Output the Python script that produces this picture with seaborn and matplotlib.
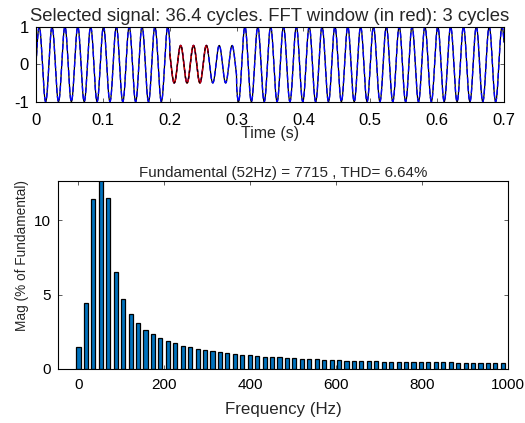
import numpy as np
import pandas as pd
import matplotlib
matplotlib.use("Agg")
import matplotlib.pyplot as plt
import seaborn as sns

# ---------------- data ----------------
# Signal definition (top panel)
signal_freq_hz = 52.0
signal_duration_s = 0.7
sag_start_s = 0.2
sag_end_s = 0.3
normal_amplitude = 1.0
sag_amplitude = 0.5
fft_cycles = 3

# Spectrum (bottom panel): magnitude in % of fundamental per FFT bin
bin_spacing_hz = signal_freq_hz / fft_cycles
magnitudes = [
    1.46, 4.45, 11.41, 100.0, 11.50, 6.54, 4.70, 3.69, 3.06, 2.63,
    2.32, 2.05, 1.87, 1.71, 1.55, 1.44, 1.35, 1.24, 1.19, 1.12,
    1.04, 1.01, 0.94, 0.90, 0.86, 0.81, 0.77, 0.76, 0.72, 0.70,
    0.67, 0.65, 0.63, 0.60, 0.58, 0.57, 0.55, 0.53, 0.52, 0.50,
    0.50, 0.48, 0.47, 0.46, 0.45, 0.45, 0.44, 0.43, 0.43, 0.42,
    0.42, 0.41, 0.41, 0.40, 0.40, 0.40, 0.39, 0.39,
]
frequencies = [round(k * bin_spacing_hz, 3) for k in range(len(magnitudes))]

top_title = "Selected signal: 36.4 cycles. FFT window (in red): 3 cycles"
bottom_title = "Fundamental (52Hz) = 7715 , THD= 6.64%"
top_xticks = [0, 0.1, 0.2, 0.3, 0.4, 0.5, 0.6, 0.7]
top_yticks = [-1, 0, 1]
bottom_xticks = [0, 200, 400, 600, 800, 1000]
bottom_yticks = [0, 5, 10]

# ---------------- build signal ----------------
t = np.linspace(0, signal_duration_s, 4000)
amp = np.where((t >= sag_start_s) & (t < sag_end_s), sag_amplitude, normal_amplitude)
y = amp * np.sin(2 * np.pi * signal_freq_hz * t)
win_end = sag_start_s + fft_cycles / signal_freq_hz
in_win = (t >= sag_start_s) & (t <= win_end)

sig_df = pd.DataFrame({"t": t, "y": y})
win_df = sig_df[in_win]
spec_df = pd.DataFrame({"f": frequencies, "mag": magnitudes})

# ---------------- plot ----------------
sns.set_theme(style="white")
plt.rcParams["font.family"] = ["Liberation Sans", "DejaVu Sans"]
plt.rcParams["axes.unicode_minus"] = False

fig = plt.figure(figsize=(5.25, 4.23), dpi=100)
ax1 = fig.add_axes([0.0686, 0.7596, 0.8914, 0.1773])
ax2 = fig.add_axes([0.111, 0.1284, 0.8566, 0.4444])

sns.lineplot(data=sig_df, x="t", y="y", ax=ax1, color="black", lw=0.9,
             estimator=None, sort=False)
sns.lineplot(data=sig_df, x="t", y="y", ax=ax1, color="#0000ff", lw=1.0,
             estimator=None, sort=False)
ax1.lines[-1].set_linestyle((0, (4, 2)))
sns.lineplot(data=win_df, x="t", y="y", ax=ax1, color="#cc0000", lw=1.1,
             estimator=None, sort=False)
sns.lineplot(data=win_df, x="t", y="y", ax=ax1, color="black", lw=0.7,
             estimator=None, sort=False)
ax1.lines[-1].set_linestyle((0, (3, 3)))

ax1.set_xlim(0, signal_duration_s)
ax1.set_ylim(-1, 1)
ax1.set_xticks(top_xticks)
ax1.set_xticklabels([f"{v:g}" for v in top_xticks])
ax1.set_yticks(top_yticks)
ax1.set_title(top_title, fontsize=13.3, pad=4)
ax1.set_xlabel("Time (s)", fontsize=11.5, labelpad=-1)
ax1.set_ylabel("")

sns.barplot(data=spec_df, x="f", y="mag", native_scale=True, width=0.55,
            color="#0072BD", edgecolor="black", linewidth=0.9, ax=ax2,
            saturation=1)
ax2.set_xlim(-47, 1000)
ax2.set_ylim(0, 12.67)
ax2.set_xticks(bottom_xticks)
ax2.set_yticks(bottom_yticks)
ax2.set_title(bottom_title, fontsize=10.9, pad=3)
ax2.set_xlabel("Frequency (Hz)", fontsize=12.2, labelpad=7)
ax2.set_ylabel("Mag (% of Fundamental)", fontsize=9.8, labelpad=2)
ax2.yaxis.set_label_coords(-0.065, 0.6)

ax1.tick_params(axis="x", labelsize=12, pad=8)
ax1.tick_params(axis="y", labelsize=12, pad=5)
ax2.tick_params(axis="x", labelsize=11, pad=7)
ax2.tick_params(axis="y", labelsize=11, pad=5)

for ax in (ax1, ax2):
    for s in ax.spines.values():
        s.set_color("black")
        s.set_linewidth(0.8)
    ax.tick_params(direction="in", length=3, width=0.6, color="#444444",
                   top=True, right=True, bottom=True, left=True,
                   labelcolor="black")

fig.savefig("out.png", dpi=100)
